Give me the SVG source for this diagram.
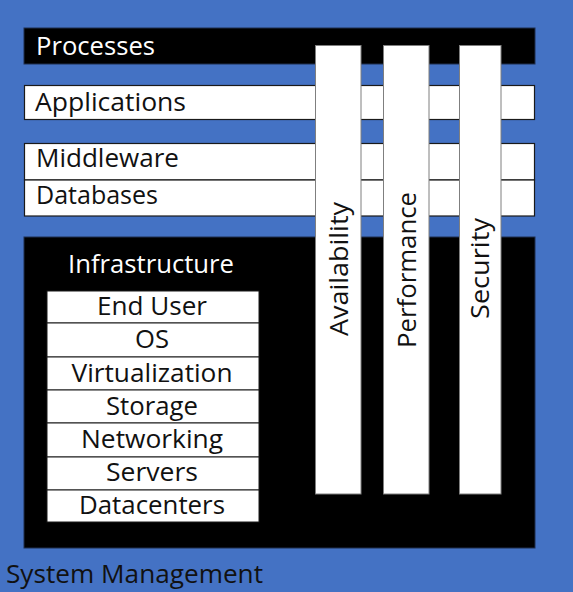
<svg xmlns="http://www.w3.org/2000/svg" width="573" height="592" viewBox="0 0 573 592">
<style>
text{font-family:"Open Sans","Liberation Sans",sans-serif;font-size:25.5px;}
.wbox{fill:#ffffff;stroke:#1a1a1a;stroke-width:1.2;}
.bbox{fill:#000000;stroke:#1f2f4f;stroke-width:1;}
.vbar{fill:#ffffff;stroke:#7f7f7f;stroke-width:1;}
.dark{fill:#111111;}
.light{fill:#ffffff;}
.mid{text-anchor:middle;}
.row{fill:#ffffff;stroke:#1a1a1a;stroke-width:1;}
</style>
<rect x="0" y="0" width="573" height="592" fill="#4472C4"/>
<g id="processes">
  <rect class="bbox" x="24" y="28" width="511" height="36"/>
  <text class="light" x="36" y="55" textLength="119" lengthAdjust="spacingAndGlyphs">Processes</text>
</g>
<g id="applications">
  <rect class="wbox" x="24.5" y="85.5" width="510" height="34"/>
  <text class="dark" x="35" y="111" textLength="151" lengthAdjust="spacingAndGlyphs">Applications</text>
</g>
<g id="middleware">
  <rect class="wbox" x="24.5" y="143.5" width="510" height="36.5"/>
  <text class="dark" x="36" y="167" textLength="143" lengthAdjust="spacingAndGlyphs">Middleware</text>
</g>
<g id="databases">
  <rect class="wbox" x="24.5" y="180" width="510" height="36"/>
  <text class="dark" x="36" y="204" textLength="122" lengthAdjust="spacingAndGlyphs">Databases</text>
</g>
<g id="infrastructure">
  <rect class="bbox" x="24" y="237" width="511" height="311"/>
  <text class="light mid" x="151" y="273" textLength="166" lengthAdjust="spacingAndGlyphs">Infrastructure</text>
  <g id="end-user"><rect class="row" x="47" y="291" width="212" height="32"/><text class="dark mid" x="152" y="315" textLength="110" lengthAdjust="spacingAndGlyphs">End User</text></g>
  <g id="os"><rect class="row" x="47" y="323" width="212" height="34"/><text class="dark mid" x="152" y="348" textLength="34" lengthAdjust="spacingAndGlyphs">OS</text></g>
  <g id="virtualization"><rect class="row" x="47" y="357" width="212" height="33"/><text class="dark mid" x="152" y="382" textLength="161" lengthAdjust="spacingAndGlyphs">Virtualization</text></g>
  <g id="storage"><rect class="row" x="47" y="390" width="212" height="33"/><text class="dark mid" x="152" y="415" textLength="92" lengthAdjust="spacingAndGlyphs">Storage</text></g>
  <g id="networking"><rect class="row" x="47" y="423" width="212" height="34"/><text class="dark mid" x="152" y="448" textLength="142" lengthAdjust="spacingAndGlyphs">Networking</text></g>
  <g id="servers"><rect class="row" x="47" y="457" width="212" height="33"/><text class="dark mid" x="152" y="481" textLength="92" lengthAdjust="spacingAndGlyphs">Servers</text></g>
  <g id="datacenters"><rect class="row" x="47" y="490" width="212" height="32"/><text class="dark mid" x="152" y="514" textLength="146" lengthAdjust="spacingAndGlyphs">Datacenters</text></g>
</g>
<g id="availability">
  <rect class="vbar" x="315.5" y="45.5" width="45.5" height="448.5"/>
  <text class="dark mid" transform="translate(348,269) rotate(-90)" textLength="134" lengthAdjust="spacingAndGlyphs">Availability</text>
</g>
<g id="performance">
  <rect class="vbar" x="383.5" y="45.5" width="45.5" height="448.5"/>
  <text class="dark mid" transform="translate(416,270) rotate(-90)" textLength="156" lengthAdjust="spacingAndGlyphs">Performance</text>
</g>
<g id="security">
  <rect class="vbar" x="459.5" y="45.5" width="41.5" height="448.5"/>
  <text class="dark mid" transform="translate(489,268.5) rotate(-90)" textLength="101" lengthAdjust="spacingAndGlyphs">Security</text>
</g>
<g id="system-management">
  <text class="dark" x="6" y="583" textLength="257" lengthAdjust="spacingAndGlyphs">System Management</text>
</g>
</svg>
